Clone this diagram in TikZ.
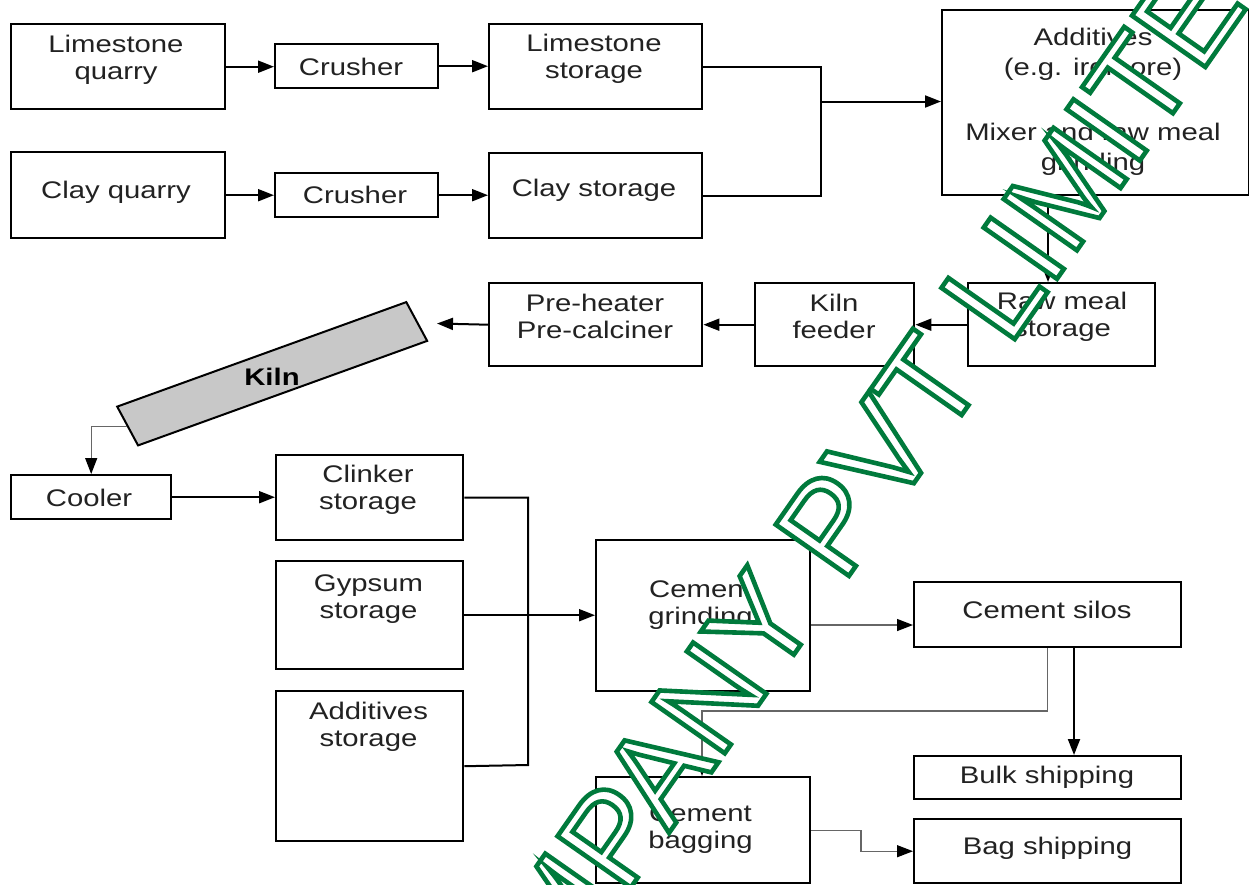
\documentclass[tikz,border=0pt]{standalone}
\usepackage{fontspec}
\setmainfont[FakeStretch=1.22]{Liberation Sans}
\newfontfamily\wmfont{Liberation Sans}
\usetikzlibrary{arrows.meta}
\definecolor{txtc}{RGB}{34,34,34}
\definecolor{kilngray}{RGB}{200,200,200}
\newcommand\wmoutline[1]{{\color{white}\special{pdf:literal direct 0 0.478 0.235 RG 4.6 w 2 Tr}#1\special{pdf:literal direct 0 Tr}}}
\begin{document}
\begin{tikzpicture}[x=1pt,y=-1pt, font=\fontsize{24}{27}\selectfont,
  box/.style={draw=black, line width=2.4pt, inner sep=0pt, anchor=north west},
  txt/.style={align=center, inner sep=0pt, text=txtc},
  con/.style={line width=2pt, draw=black},
  tip/.style={-{Triangle[length=16pt,width=12pt,color=black]}},
  arr/.style={con, tip},
  lite/.style={line width=1.3pt, draw=black!60},
  litearr/.style={lite, tip}]
\useasboundingbox (0,0) rectangle (1249,884);
\fill[white] (0,0) rectangle (1249,884);
\clip (0,0) rectangle (1249,884);

% boxes
\node[box, minimum width=214pt, minimum height=85pt] (lq) at (10,23) {};
\node[box, minimum width=163pt, minimum height=44pt] (cr1) at (274,43) {};
\node[box, minimum width=213pt, minimum height=85pt] (ls) at (488,23) {};
\node[box, minimum width=214pt, minimum height=86pt] (cq) at (10,151) {};
\node[box, minimum width=163pt, minimum height=44pt] (cr2) at (274,172) {};
\node[box, minimum width=213pt, minimum height=85pt] (cs) at (488,152) {};
\node[box, minimum width=307pt, minimum height=185pt] (mix) at (941,9) {};
\node[box, minimum width=187pt, minimum height=83pt] (rms) at (967,282) {};
\node[box, minimum width=159pt, minimum height=83pt] (kf) at (754,282) {};
\node[box, minimum width=213pt, minimum height=83pt] (ph) at (488,282) {};
\node[box, minimum width=160pt, minimum height=44pt] (cool) at (10,474) {};
\node[box, minimum width=187pt, minimum height=85pt] (clk) at (275,454) {};
\node[box, minimum width=187pt, minimum height=108pt] (gyp) at (275,560) {};
\node[box, minimum width=187pt, minimum height=150pt] (adds) at (275,690) {};
\node[box, minimum width=214pt, minimum height=151pt] (cg) at (595,539) {};
\node[box, minimum width=214pt, minimum height=106pt] (cb) at (595,776) {};
\node[box, minimum width=267pt, minimum height=65pt] (silos) at (913,581) {};
\node[box, minimum width=267pt, minimum height=43pt] (bulk) at (913,755) {};
\node[box, minimum width=267pt, minimum height=64pt] (bag) at (913,818) {};

\begin{scope}[xscale=1.22]
\node[draw=black, line width=2pt, fill=kilngray, minimum width=259pt, minimum height=42.4pt,
      inner sep=0pt, rotate=23.8, transform shape] (kiln) at (223.1,373.75) {};
\end{scope}

% texts
\node[txt] (lq-t) at (116,60) {Limestone\\quarry};
\node[txt] (cr1-t) at (351,66.5) {Crusher};
\node[txt] (ls-t) at (594,59) {Limestone\\storage};
\node[txt] (cq-t) at (116,192) {Clay quarry};
\node[txt] (cr2-t) at (355,195) {Crusher};
\node[txt] (cs-t) at (594,190) {Clay storage};
\node[txt, font=\fontsize{24}{30}\selectfont] (mix-t) at (1093,101.5) {Additives\\(e.g. iron ore)\\[35pt]Mixer and raw meal\\grinding};
\node[txt] (rms-t) at (1062,316.5) {Raw meal\\storage};
\node[txt] (kf-t) at (834,316.5) {Kiln\\feeder};
\node[txt] (ph-t) at (595,316.5) {Pre-heater\\Pre-calciner};
\node[txt, text=black, font=\fontsize{24}{27}\selectfont\bfseries] (kiln-t) at (272,377) {Kiln};
\node[txt] (cool-t) at (89,497.5) {Cooler};
\node[txt] (clk-t) at (368,490) {Clinker\\storage};
\node[txt] (gyp-t) at (368.5,599) {Gypsum\\storage};
\node[txt] (adds-t) at (368.5,726.5) {Additives\\storage};
\node[txt] (cg-t) at (700.5,605) {Cement\\grinding};
\node[txt] (cb-t) at (700.5,829) {Cement\\bagging};
\node[txt] (silos-t) at (1047,610) {Cement silos};
\node[txt] (bulk-t) at (1047,777) {Bulk shipping};
\node[txt] (bag-t) at (1047.5,848) {Bag shipping};

% connectors
\draw[arr] (lq.east) -- (lq.east -| cr1.west);
\draw[arr] (cr1.east) -- (cr1.east -| ls.west);
\draw[arr] (cq.east) -- (cq.east -| cr2.west);
\draw[arr] (cr2.east) -- (cr2.east -| cs.west);
\coordinate (j1) at (821,101.5);
\draw[con] (ls.east) -| (j1);
\draw[con] (cs.east) -| (j1);
\draw[arr] (j1) -- (j1 -| mix.west);
\coordinate (xm) at (1048,240);
\draw[arr] (xm |- mix.south) -- (xm |- rms.north);
\draw[arr] (rms.west) -- (rms.west -| kf.east);
\draw[arr] (kf.west) -- (kf.west -| ph.east);
\coordinate (kin) at (437,323.5);
\draw[arr] (ph.west) -- (kin);
\draw[litearr] (kiln.west) -| (cool.north);
\draw[arr] (cool.east) -- (cool.east -| clk.west);
\coordinate (j2) at (528,765);
\draw[con] (clk.east) -| (j2) -- (adds.east);
\draw[arr] (gyp.east) -- (gyp.east -| cg.west);
\coordinate (ys) at (860,625);
\draw[litearr] (ys -| cg.east) -- (ys -| silos.west);
\coordinate (xb) at (1074,700);
\draw[arr] (xb |- silos.south) -- (xb |- bulk.north);
\coordinate (j3) at (702,711);
\draw[litearr] (silos.south) |- (j3) -- (j3 |- cb.north);
\coordinate (j4) at (861,840);
\draw[litearr] (cb.east) -| (j4) |- (bag.west);

% watermark
\node[anchor=base west, inner sep=0pt, rotate=55] (wm) at (450.6,1144.8)
  {\wmfont\fontsize{130}{130}\selectfont\wmoutline{COMPANY PVT LIMITED}};
\end{tikzpicture}
\end{document}
